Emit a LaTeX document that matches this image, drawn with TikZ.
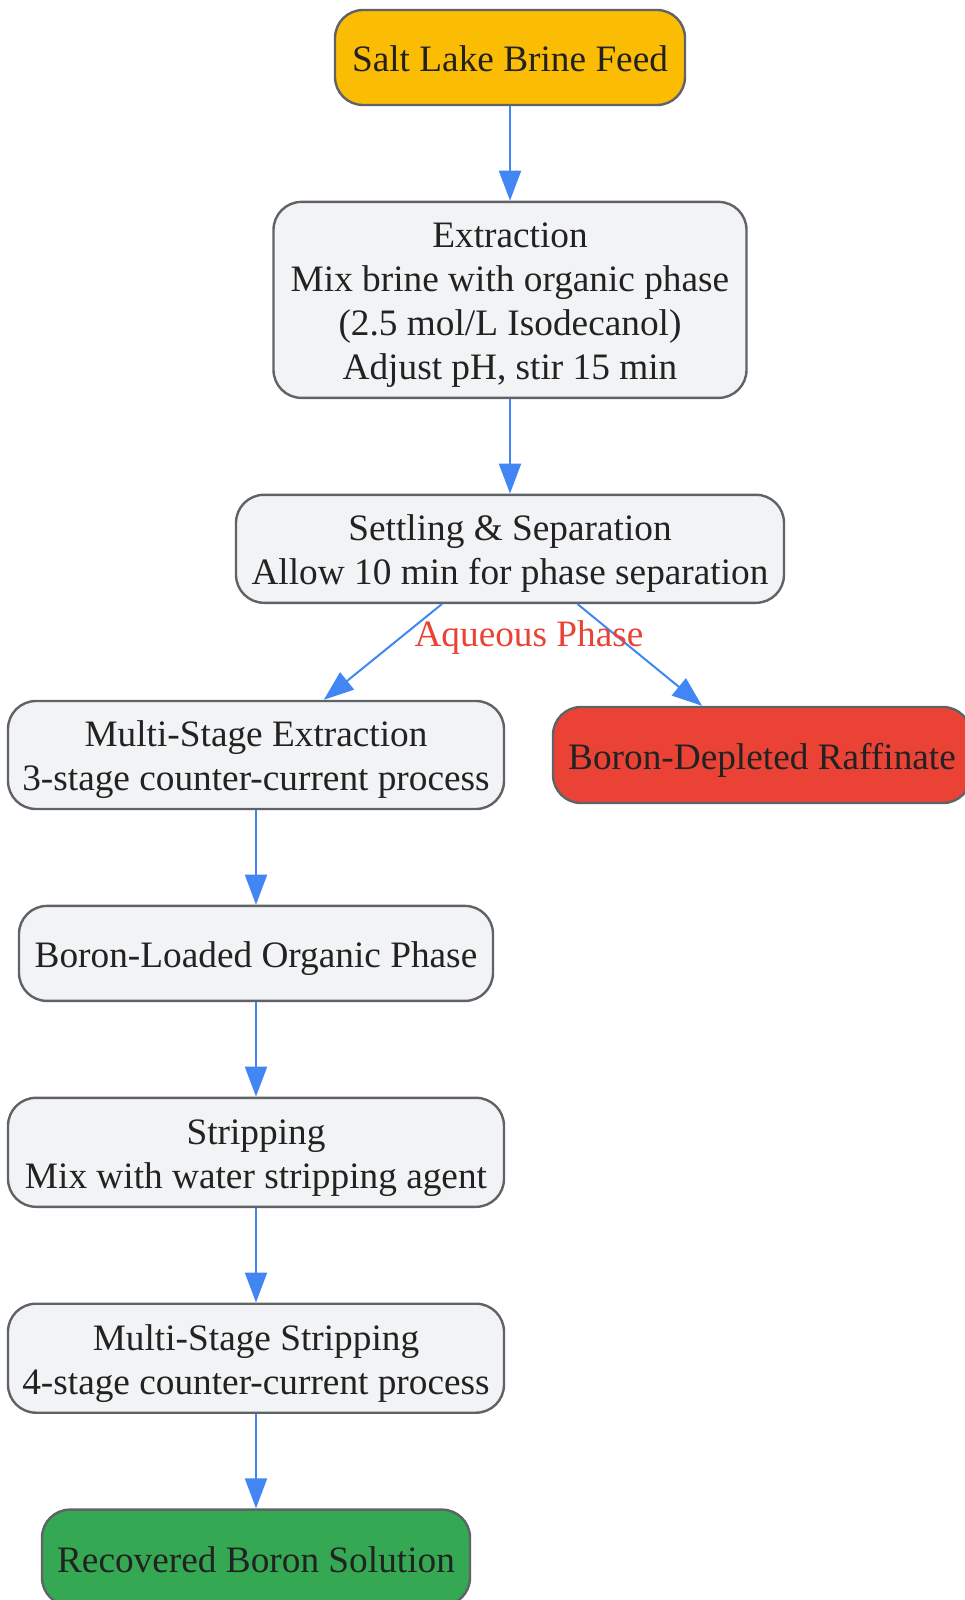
\documentclass[tikz,border=0pt]{standalone}
\usepackage{fontspec}
\setmainfont{Liberation Serif}
\usepackage{tikz}
\usetikzlibrary{arrows.meta}
\usetikzlibrary{positioning}
\definecolor{procfill}{HTML}{F1F3F4}
\definecolor{procline}{HTML}{5F6368}
\definecolor{feedfill}{HTML}{FBBC04}
\definecolor{wastefill}{HTML}{EA4335}
\definecolor{prodfill}{HTML}{34A853}
\definecolor{flowline}{HTML}{4285F4}
\definecolor{labeltext}{HTML}{EA4335}
\definecolor{nodetext}{HTML}{222222}
\newcommand{\tallstrut}{\rule{0pt}{36pt}}
\tikzset{
    proc/.style={
           rectangle,
           rounded corners=28pt,
           draw=procline, line width=2.4pt,
           fill=procfill,
           text=nodetext,
           align=center,
           inner sep=0pt,
           font=\fontsize{37.3}{44}\selectfont,
           execute at begin node={\rule[-8pt]{0pt}{45pt}},
           execute at end node={\rule[-8pt]{0pt}{41pt}},
           },
}
\tikzset{
    feed/.style={proc, fill=feedfill},
    waste/.style={proc, fill=wastefill},
    product/.style={proc, fill=prodfill},
}
\tikzset{
    flow/.style={
           draw=flowline, line width=2pt,
           -{Triangle[length=30pt,width=22pt]},
           },
    edgelabel/.style={
           text=labeltext,
           inner sep=0pt,
           font=\fontsize{37.3}{44}\selectfont,
           },
}

\begin{document}
\begin{tikzpicture}[x=1pt,y=-1pt,node distance=94.5pt]
\useasboundingbox (0,0) rectangle (965,1600);
\node[feed,minimum width=350pt,minimum height=95pt] (feed) at (510,57.5) {Salt Lake Brine Feed};
\node[proc,minimum width=473pt,minimum height=196pt,below=of feed] (extract) {\tallstrut Extraction\\Mix brine with organic phase\\(2.5 mol/L Isodecanol)\\Adjust pH, stir 15 min};
\node[proc,minimum width=548pt,minimum height=108pt,below=of extract] (settle) {\tallstrut Settling \& Separation\\Allow 10 min for phase separation};
\node[proc,minimum width=496pt,minimum height=108pt] (msext) at (256,755) {\tallstrut Multi-Stage Extraction\\3-stage counter-current process};
\node[waste,minimum width=418pt,minimum height=96pt] (raff) at (762,755) {Boron-Depleted Raffinate};
\node[proc,minimum width=474pt,minimum height=95pt,below=of msext] (loaded) {Boron-Loaded Organic Phase};
\node[proc,minimum width=496pt,minimum height=109pt,below=of loaded] (strip) {\tallstrut Stripping\\Mix with water stripping agent};
\node[proc,minimum width=496pt,minimum height=109pt,below=of strip] (msstrip) {\tallstrut Multi-Stage Stripping\\4-stage counter-current process};
\node[product,minimum width=428pt,minimum height=96pt,below=of msstrip] (recovered) {Recovered Boron Solution};

\draw[flow] (feed) -- (extract);
\draw[flow] (extract) -- (settle);
\draw[flow] (settle) -- (msext);
\draw[flow] (settle) -- (raff);
\node[edgelabel] (aqlabel) at (529,638) {Aqueous Phase};
\draw[flow] (msext) -- (loaded);
\draw[flow] (loaded) -- (strip);
\draw[flow] (strip) -- (msstrip);
\draw[flow] (msstrip) -- (recovered);
\end{tikzpicture}
\end{document}
